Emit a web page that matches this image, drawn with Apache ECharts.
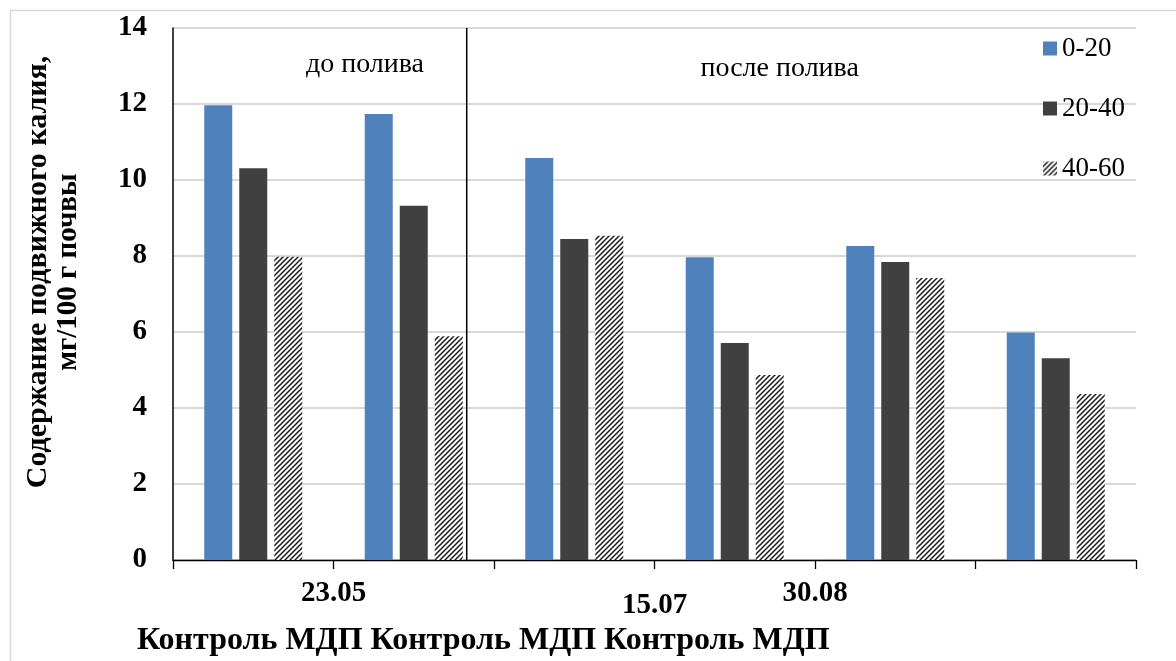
<!DOCTYPE html>
<html>
<head>
<meta charset="utf-8">
<script src="https://cdn.jsdelivr.net/npm/echarts@6/dist/echarts.min.js"></script>
<style>
  html, body { margin: 0; padding: 0; background: #fff; }
  #chart { width: 1176px; height: 661px; }
</style>
</head>
<body>
<div id="chart"></div>
<script>
// Plots: Контроль / МДП at three sampling dates
const categories = ['Контроль', 'МДП', 'Контроль', 'МДП', 'Контроль', 'МДП'];
const seriesNames = ['0-20', '20-40', '40-60'];
const layer0_20  = [11.97, 11.74, 10.58, 7.97, 8.26, 5.99];
const layer20_40 = [10.31, 9.32, 8.45, 5.71, 7.84, 5.31];
const layer40_60 = [7.98, 5.89, 8.53, 4.87, 7.42, 4.37];
const yTicks = [0, 14, 2];          // min, max, interval
const yTitle = ['Содержание подвижного калия,', 'мг/100 г почвы'];
const dateLabels = ['23.05', '15.07', '30.08'];
const datePositions = [1, 3, 4];    // positions on the plot-index scale (0..6)
const dividerAt = 1.83;             // boundary between "до полива" and "после полива"
const notes = [['до полива', 1.196], ['после полива', 3.78]];
const bottomLine = 'Контроль МДП Контроль МДП Контроль МДП';

const SERIF = '"Liberation Serif", "Times New Roman", serif';

function hatchPattern() {
  const c = document.createElement('canvas');
  c.width = 5; c.height = 5;
  const g = c.getContext('2d');
  g.fillStyle = '#ffffff';
  g.fillRect(0, 0, 5, 5);
  g.strokeStyle = '#1a1a1a';
  g.lineWidth = 1.5;
  g.beginPath();
  g.moveTo(-1, 6); g.lineTo(6, -1);
  g.moveTo(-1, 1); g.lineTo(1, -1);
  g.moveTo(4, 6); g.lineTo(6, 4);
  g.stroke();
  return { image: c, repeat: 'repeat' };
}
const hatch = hatchPattern();

const chart = echarts.init(document.getElementById('chart'), null, { renderer: 'canvas' });

const values = [layer0_20, layer20_40, layer40_60];
const colors = ['#4f81bd', '#404040', hatch];

const barSeries = values.map((d, i) => ({
  name: seriesNames[i],
  type: 'bar',
  data: d,
  barWidth: 28,
  barGap: '25%',
  itemStyle: { color: colors[i] },
  emphasis: { disabled: true }
}));

chart.setOption({
  animation: false,
  backgroundColor: '#ffffff',
  grid: { left: 173, right: 40, top: 28, bottom: 101, containLabel: false, outerBoundsMode: 'none' },
  legend: {
    orient: 'vertical',
    left: 1043,
    top: 35,
    padding: 0,
    itemWidth: 14,
    itemHeight: 14,
    itemGap: 33,
    icon: 'rect',
    textStyle: { fontFamily: SERIF, fontSize: 27, color: '#000' },
    data: seriesNames
  },
  xAxis: [{
    type: 'category',
    data: categories,
    axisLine: { lineStyle: { color: '#000', width: 1.3 } },
    axisTick: { show: true, length: 9, lineStyle: { color: '#000', width: 1.3 } },
    axisLabel: { show: false },
    splitLine: { show: false }
  }, {
    type: 'value',
    min: 0, max: 6,
    show: false
  }],
  yAxis: {
    type: 'value',
    min: yTicks[0], max: yTicks[1], interval: yTicks[2],
    axisLine: { show: true, lineStyle: { color: '#000', width: 1.5 } },
    axisTick: { show: false },
    axisLabel: { fontFamily: SERIF, fontWeight: 'bold', fontSize: 29, color: '#000', margin: 26 },
    splitLine: { lineStyle: { color: '#d9d9d9', width: 2 } }
  },
  series: barSeries.concat([{
    type: 'line',
    xAxisIndex: 1,
    data: [[dividerAt, yTicks[0]], [dividerAt, yTicks[1]]],
    symbol: 'none',
    silent: true,
    lineStyle: { color: '#000', width: 1.5 },
    z: 5
  }])
});

// Texts placed through the axes' own scales
const g = [];
const y0 = chart.convertToPixel({ yAxisIndex: 0 }, 0);
dateLabels.forEach((t, i) => {
  const x = chart.convertToPixel({ xAxisIndex: 1 }, datePositions[i]);
  g.push({
    type: 'text', x: x, y: y0 + 34 + (i === 1 ? 12 : 0),
    style: { text: t, fontFamily: SERIF, fontWeight: 'bold', fontSize: 29, fill: '#000',
             align: 'center', verticalAlign: 'middle' }
  });
});
notes.forEach(([t, pos], i) => {
  const x = chart.convertToPixel({ xAxisIndex: 1 }, pos);
  g.push({
    type: 'text', x: x, y: chart.convertToPixel({ yAxisIndex: 0 }, 13.0) + (i ? 3 : -1),
    style: { text: t, fontFamily: SERIF, fontSize: 28, fill: '#000',
             align: 'center', verticalAlign: 'middle' }
  });
});
// vertical axis title, two lines
[[yTitle[0], 38, 30], [yTitle[1], 69, 29]].forEach(([t, x, size]) => {
  g.push({
    type: 'text', x: x, y: 272, rotation: Math.PI / 2,
    style: { text: t, fontFamily: SERIF, fontWeight: 'bold', fontSize: size, fill: '#000',
             align: 'center', verticalAlign: 'middle' }
  });
});
g.push({
  type: 'text', x: 137, y: 641,
  style: { text: bottomLine, fontFamily: SERIF, fontWeight: 'bold', fontSize: 32, fill: '#000',
           align: 'left', verticalAlign: 'middle' }
});
g.push({
  type: 'rect', left: 8, top: 8, shape: { width: 1176, height: 680 },
  style: { fill: 'none', stroke: '#d9d9d9', lineWidth: 1.5 }, silent: true, z: -1
});
chart.setOption({ graphic: g });
</script>
</body>
</html>
